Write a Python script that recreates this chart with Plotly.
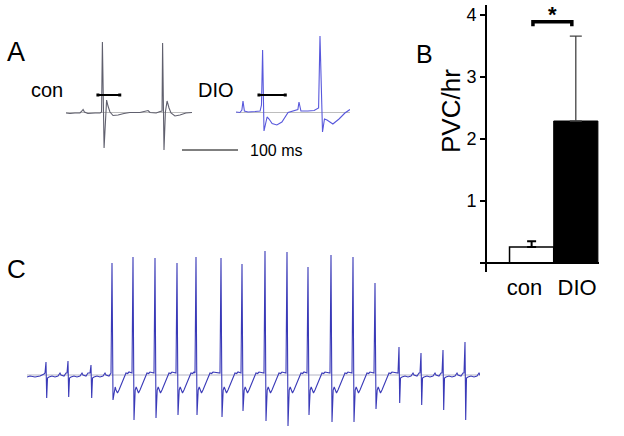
import plotly.graph_objects as go

W, H = 624, 436
FONT = "Liberation Sans, Arial, sans-serif"

# ---------------- Panel A: representative ECG beats (time ms, amplitude mV)
con_t_ms = [0, 7, 16, 25, 28.5, 30.5, 33, 39, 52, 61, 63.5, 65, 68, 70.5, 72.5, 75, 78.5, 84, 93, 103.5,
            114, 132, 143, 146.5, 150, 161, 168, 171.5, 172.5, 175, 177.5, 180.5, 184, 187.5, 194.5, 203.5, 214, 225]
con_mv = [-0.005, -0.01, -0.005, -0.005, 0.015, 0.03, 0.005, -0.01, -0.005, -0.005, 0.005, 0.705, -0.355, 0.005,
          0.125, 0.065, 0.005, -0.03, -0.025, -0.01, 0, 0, 0.01, 0.02, 0, -0.005, 0.01, 0.015, 0.695, -0.375,
          0.005, 0.115, 0.045, -0.005, -0.035, -0.025, -0.005, 0]

dio_t_ms = [0, 7, 10.5, 12.5, 15, 21.5, 34, 43, 45.5, 47.5, 50, 52.5, 55.5, 59, 64.5, 73, 82, 93, 103.5, 110.5,
            112.5, 116, 128.5, 139.5, 147.5, 150, 154.5, 158, 162.5, 173, 184, 194.5, 203.5]
dio_mv = [0.005, 0, 0.025, 0.115, 0.015, 0.005, 0.01, 0.015, 0.075, 0.625, -0.185, -0.115, -0.045, -0.065, -0.11,
          -0.125, -0.095, 0, 0.02, 0.03, 0.105, 0.015, 0.015, 0.02, 0.045, 0.765, -0.195, -0.065, -0.075, -0.115,
          -0.065, -0.005, 0.03]

con_qt_ms = [57, 96]      # QT interval marker, con
dio_qt_ms = [41, 88]      # QT interval marker, DIO
qt_marker_mv = 0.175
scale_bar_ms = [0, 100]
scale_bar_mv = -0.375

# ---------------- Panel B: PVC per hour
groups = ["con", "DIO"]
pvc_mean = [0.26, 2.29]
pvc_sem = [0.09, 1.37]

# ---------------- Panel C: ECG strip with ventricular run
c_lead_ms = [0, 15, 40, 65, 85]
c_lead_mv = [-0.02, -0.01, -0.02, -0.01, 0.01]
c_beat_ms = [95, 205, 320,
             425, 530, 640, 750, 845, 970, 1075, 1190, 1300, 1405, 1520, 1630, 1740,
             1860, 1970, 2080, 2190]
c_beat_type = ["N", "N", "N"] + ["V"] * 13 + ["N", "N", "N", "N"]
c_peak_mv = [0.13, 0.14, 0.10,
             1.12, 1.18, 1.17, 1.12, 1.18, 1.17, 1.11, 1.24, 1.23, 1.08, 1.20, 1.18, 0.92,
             0.28, 0.22, 0.25, 0.33]
c_trough_mv = [-0.23, -0.22, -0.23,
               -0.25, -0.45, -0.43, -0.40, -0.40, -0.42, -0.36, -0.46, -0.51, -0.40, -0.47, -0.47, -0.34,
               -0.28, -0.30, -0.35, -0.45]
# beat morphologies (offset ms, mV); None = peak / trough of that beat
normal_dt = [-5, 0, 3.5, 7.5, 15, 30, 45, 60, 70, 75, 90, 100]
normal_v = [0.02, None, None, -0.03, -0.02, -0.01, -0.02, -0.01, 0.02, 0.0, -0.01, 0.02]
wide_dt = [-5, 0, 5, 11, 16, 20, 27.5, 35, 47, 60, 70, 78, 85]
wide_v = [0.02, None, None, -0.15, -0.12, -0.15, -0.18, -0.15, -0.09, -0.03, 0.02, 0.015, 0.03]

c_t, c_v = list(c_lead_ms), list(c_lead_mv)
for t0, kind, pk, tr in zip(c_beat_ms, c_beat_type, c_peak_mv, c_trough_mv):
    dts, vs = (normal_dt, normal_v) if kind == "N" else (wide_dt, wide_v)
    extremes = [pk, tr]
    for dt, v in zip(dts, vs):
        c_t.append(t0 + dt)
        c_v.append(extremes.pop(0) if v is None else v)


def xd(a, b):
    return [a / W, b / W]


def yd(top, bottom):
    return [1 - bottom / H, 1 - top / H]


fig = go.Figure()

# Panel C traces
fig.add_trace(go.Scatter(x=[0, 2265], y=[0, 0], mode="lines", line=dict(color="#b4b4c4", width=1),
                         xaxis="x", yaxis="y", hoverinfo="skip"))
fig.add_trace(go.Scatter(x=c_t, y=c_v, mode="lines", line=dict(color="#3a3ab8", width=1.1),
                         xaxis="x", yaxis="y"))

# Panel A traces
fig.add_trace(go.Scatter(x=[con_t_ms[0], con_t_ms[-1]], y=[0, 0], mode="lines",
                         line=dict(color="#bdbdbd", width=1), xaxis="x2", yaxis="y2", hoverinfo="skip"))
fig.add_trace(go.Scatter(x=con_t_ms, y=con_mv, mode="lines", line=dict(color="#60606e", width=1.1),
                         xaxis="x2", yaxis="y2"))
fig.add_trace(go.Scatter(x=con_qt_ms, y=[qt_marker_mv] * 2, mode="lines+markers",
                         line=dict(color="black", width=2), marker=dict(symbol="square", size=3, color="black"),
                         xaxis="x2", yaxis="y2"))
fig.add_trace(go.Scatter(x=[dio_t_ms[0], dio_t_ms[-1]], y=[0, 0], mode="lines",
                         line=dict(color="#bdbdbd", width=1), xaxis="x3", yaxis="y3", hoverinfo="skip"))
fig.add_trace(go.Scatter(x=dio_t_ms, y=dio_mv, mode="lines", line=dict(color="#5858dc", width=1.1),
                         xaxis="x3", yaxis="y3"))
fig.add_trace(go.Scatter(x=dio_qt_ms, y=[qt_marker_mv] * 2, mode="lines+markers",
                         line=dict(color="black", width=2), marker=dict(symbol="square", size=3, color="black"),
                         xaxis="x3", yaxis="y3"))
fig.add_trace(go.Scatter(x=scale_bar_ms, y=[scale_bar_mv] * 2, mode="lines",
                         line=dict(color="black", width=1), xaxis="x4", yaxis="y4"))

# Panel B bars
fig.add_trace(go.Bar(x=[0], y=[pvc_mean[0]], width=1, marker=dict(color="white", line=dict(color="black", width=1.5)),
                     error_y=dict(type="data", symmetric=False, array=[pvc_sem[0]], arrayminus=[0],
                                  color="black", thickness=2, width=4.5),
                     xaxis="x5", yaxis="y5"))
fig.add_trace(go.Bar(x=[1], y=[pvc_mean[1]], width=1, marker=dict(color="black", line=dict(color="black", width=1)),
                     error_y=dict(type="data", symmetric=False, array=[pvc_sem[1]], arrayminus=[0],
                                  color="#444444", thickness=1.3, width=6),
                     xaxis="x5", yaxis="y5"))
# significance bracket
fig.add_trace(go.Scatter(x=[0.03, 0.03, 0.91, 0.91], y=[3.82, 3.89, 3.89, 3.82], mode="lines",
                         line=dict(color="black", width=3.5), xaxis="x5", yaxis="y5"))

hidden = dict(visible=False, fixedrange=True)
a_y = dict(domain=yd(30, 160), range=[-0.475, 0.825], visible=False, fixedrange=True)

fig.update_layout(
    width=W, height=H, margin=dict(l=0, r=0, t=0, b=0),
    paper_bgcolor="white", plot_bgcolor="rgba(0,0,0,0)", showlegend=False,
    font=dict(family=FONT, color="black"),
    barmode="overlay",
    xaxis=dict(domain=xd(27, 480), range=[0, 2265], anchor="y", **hidden),
    yaxis=dict(domain=yd(240, 432), range=[-0.57, 1.35], anchor="x", **hidden),
    xaxis2=dict(domain=xd(66, 192), range=[0, 225], anchor="y2", **hidden),
    yaxis2=dict(anchor="x2", **a_y),
    xaxis3=dict(domain=xd(236, 350), range=[0, 203.6], anchor="y3", **hidden),
    yaxis3=dict(anchor="x3", **a_y),
    xaxis4=dict(domain=xd(182, 238), range=[0, 100], anchor="y4", **hidden),
    yaxis4=dict(anchor="x4", **a_y),
    xaxis5=dict(domain=xd(487, 599), range=[-1.01, 1.525], anchor="y5", showline=False, showgrid=False,
                zeroline=False, ticks="", tickmode="array", tickvals=[-0.16, 1.03], ticktext=groups,
                tickfont=dict(size=22, family=FONT, color="black"), fixedrange=True),
    yaxis5=dict(domain=yd(5, 272), range=[-0.145, 4.161], anchor="x5", showline=True, linecolor="black",
                linewidth=2, showgrid=False, zeroline=False, ticks="outside", ticklen=5, tickwidth=1.5,
                tickcolor="black", tickmode="array", tickvals=[0, 1, 2, 3, 4], ticktext=["", "1", "2", "3", "4"],
                tickfont=dict(size=18, family=FONT, color="black"), fixedrange=True),
    shapes=[dict(type="line", xref="x5", yref="y5", x0=-1.01, x1=1.525, y0=0, y1=0,
                 line=dict(color="black", width=2))],
)


def ann(text, px, py, size, **kw):
    d = dict(text=text, x=px / W, y=1 - py / H, xref="paper", yref="paper", showarrow=False,
             font=dict(size=size, family=FONT, color="black"), xanchor="center", yanchor="middle")
    d.update(kw)
    fig.add_annotation(**d)


ann("A", 16, 52, 27)
ann("B", 424, 54, 25)
ann("C", 16, 269, 26)
ann("con", 47.5, 90, 20)
ann("DIO", 216, 90, 20)
ann("100 ms", 248, 150, 16, xanchor="left")
ann("PVC/hr", 451, 111, 26, textangle=-90)
fig.add_annotation(text="<b>*</b>", x=0.47, y=4.0, xref="x5", yref="y5", showarrow=False,
                   font=dict(size=22, family=FONT, color="black"))

fig.write_html("out.html", config={"displayModeBar": False},
               post_script="document.body.style.margin='0px';document.body.style.overflow='hidden';")
